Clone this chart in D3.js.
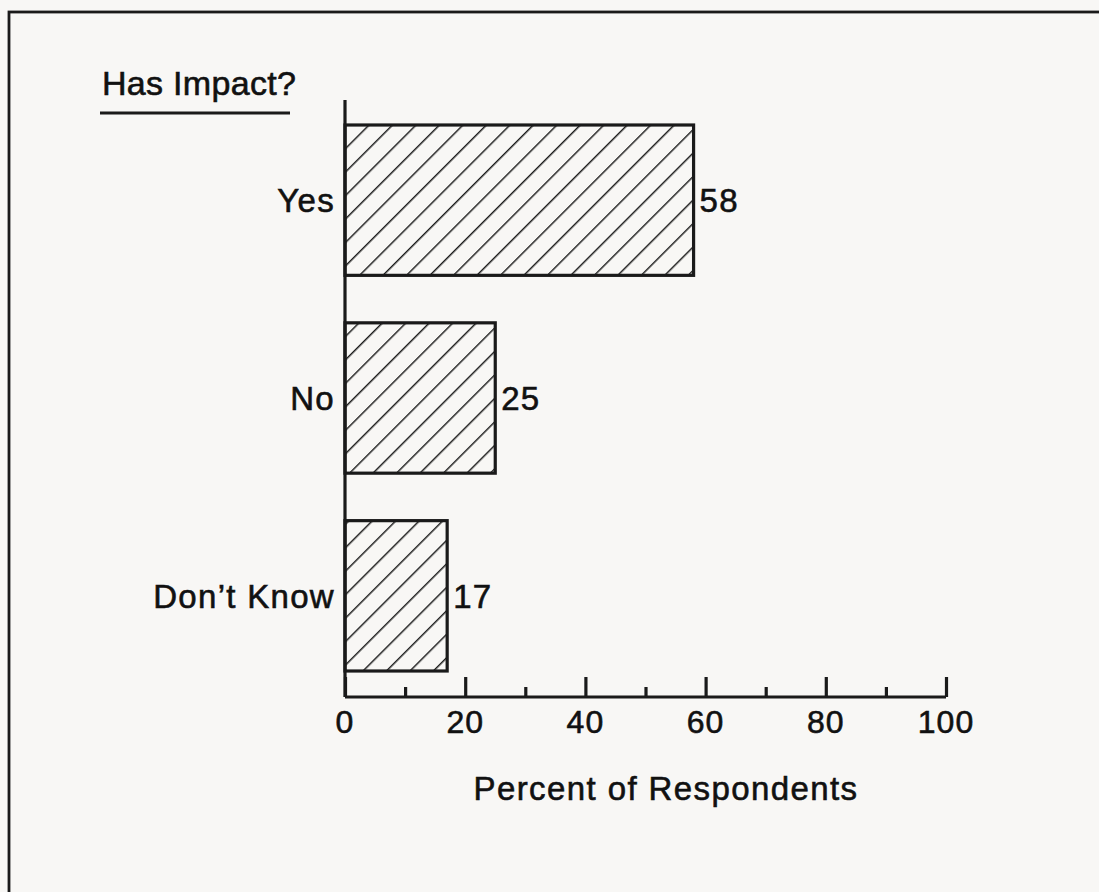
<!DOCTYPE html>
<html>
<head>
<meta charset="utf-8">
<script src="https://cdn.jsdelivr.net/npm/d3@7"></script>
<style>
  html, body { margin: 0; padding: 0; background: #f8f7f5; }
  svg { display: block; }
  text { font-family: "Liberation Sans", Arial, Helvetica, sans-serif; fill: #111; stroke: #111; stroke-width: 0.6px; }
</style>
</head>
<body>
<svg id="chart" width="1099" height="892"></svg>
<script>
const categories = ["Yes", "No", "Don\u2019t Know"];
const values = [58, 25, 17];
const majorTicks = [0, 20, 40, 60, 80, 100];
const minorTicks = [10, 30, 50, 70, 90];
const titleText = "Has Impact?";
const xAxisTitle = "Percent of Respondents";

const svg = d3.select("#chart");
const ink = "#1a1a1a";

// frame (top and left edges visible; extends beyond the picture)
svg.append("rect")
  .attr("x", 9).attr("y", 12)
  .attr("width", 1200).attr("height", 1000)
  .attr("fill", "none").attr("stroke", ink).attr("stroke-width", 2.8);

// hatch pattern
const defs = svg.append("defs");
const pat = defs.append("pattern")
  .attr("id", "hatch")
  .attr("patternUnits", "userSpaceOnUse")
  .attr("width", 16.6).attr("height", 16.6)
  .attr("patternTransform", "rotate(45)");
pat.append("line")
  .attr("x1", 0).attr("y1", -2).attr("x2", 0).attr("y2", 19)
  .attr("stroke", ink).attr("stroke-width", 2.9);

const x = d3.scaleLinear().domain([0, 100]).range([345, 946]);
const y = d3.scaleBand().domain(categories).range([125, 671]).paddingInner(0.24).paddingOuter(0);
const axisY = 697;

// bars
const bars = svg.append("g");
bars.selectAll("rect.bar")
  .data(categories)
  .enter().append("rect")
  .attr("class", "bar")
  .attr("x", x(0))
  .attr("y", d => y(d))
  .attr("width", (d, i) => x(values[i]) - x(0))
  .attr("height", y.bandwidth())
  .attr("fill", "url(#hatch)")
  .attr("stroke", ink)
  .attr("stroke-width", 3.2);

// value labels
bars.selectAll("text.val")
  .data(categories)
  .enter().append("text")
  .attr("class", "val")
  .attr("x", (d, i) => x(values[i]) + 6)
  .attr("y", d => y(d) + y.bandwidth() / 2)
  .attr("dy", "0.36em")
  .attr("font-size", 33)
  .attr("letter-spacing", 1.2)
  .text((d, i) => values[i]);

// category labels
svg.append("g").selectAll("text")
  .data(categories)
  .enter().append("text")
  .attr("x", 335)
  .attr("y", d => y(d) + y.bandwidth() / 2)
  .attr("dy", "0.36em")
  .attr("text-anchor", "end")
  .attr("font-size", 33)
  .attr("letter-spacing", 1.3)
  .text(d => d);

// y axis line
svg.append("line")
  .attr("x1", x(0)).attr("x2", x(0))
  .attr("y1", 100).attr("y2", axisY)
  .attr("stroke", ink).attr("stroke-width", 3.2);

// x axis with major ticks upward
const xAxis = d3.axisBottom(x).tickValues(majorTicks).tickSize(-20).tickFormat("").tickSizeOuter(0);
const gx = svg.append("g").attr("transform", `translate(0,${axisY})`).call(xAxis);
gx.select(".domain").attr("stroke", ink).attr("stroke-width", 3.2).attr("d", `M${x(0)},0H${x(100)}`);
gx.selectAll(".tick line").attr("stroke", ink).attr("stroke-width", 3.2);

// minor ticks
const xMinor = d3.axisBottom(x).tickValues(minorTicks).tickSize(-10).tickFormat("");
const gm = svg.append("g").attr("transform", `translate(0,${axisY})`).call(xMinor);
gm.select(".domain").remove();
gm.selectAll(".tick line").attr("stroke", ink).attr("stroke-width", 3.2);

// tick labels
svg.append("g").selectAll("text")
  .data(majorTicks)
  .enter().append("text")
  .attr("x", d => x(d))
  .attr("y", 733)
  .attr("text-anchor", "middle")
  .attr("font-size", 32)
  .attr("letter-spacing", 1)
  .text(d => d);

// x axis title
svg.append("text")
  .attr("x", 666)
  .attr("y", 800)
  .attr("text-anchor", "middle")
  .attr("font-size", 33)
  .attr("letter-spacing", 1.4)
  .text(xAxisTitle);

// chart title with underline
svg.append("text")
  .attr("x", 102)
  .attr("y", 95)
  .attr("font-size", 34)
  .attr("letter-spacing", 0.3)
  .text(titleText);
svg.append("line")
  .attr("x1", 100).attr("x2", 290)
  .attr("y1", 113).attr("y2", 113)
  .attr("stroke", ink).attr("stroke-width", 3);
</script>
</body>
</html>
